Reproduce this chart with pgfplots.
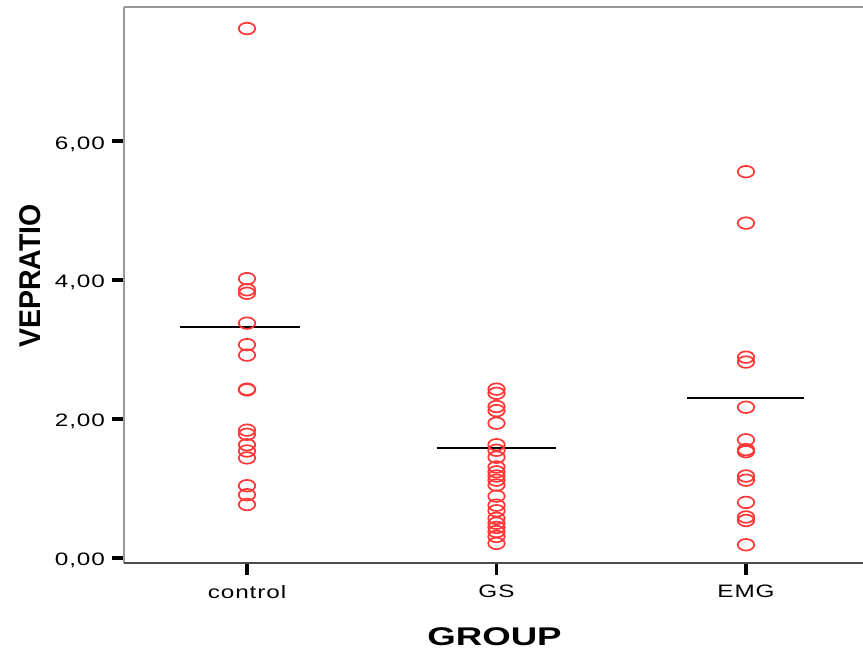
\documentclass[border=0pt]{standalone}
\usepackage{fontspec}
\setmainfont{Liberation Sans}
\newfontfamily\tickfont[FakeStretch=1.35, LetterSpace=5]{Liberation Sans}
\newfontfamily\xlabfont[FakeStretch=1.43]{Liberation Sans}
\newfontfamily\ylabfont[FakeStretch=0.95]{Liberation Sans}
\usepackage{pgfplots}
\pgfplotsset{compat=1.18}
\definecolor{ptred}{RGB}{255,55,55}
\begin{document}
\begin{tikzpicture}
\begin{axis}[
  scale only axis,
  width=369.5pt, height=278pt,
  xmin=-0.493, xmax=2.469,
  ymin=-0.072, ymax=7.93,
  axis line style={draw=none},
  xtick={0,1,2},
  xticklabels={control,GS,EMG},
  ytick={0,2,4,6},
  xtick pos=bottom, ytick pos=left,
  tick align=outside,
  major tick length=6pt,
  every tick/.style={black, line width=1.6pt},
  /pgf/number format/.cd, fixed, fixed zerofill, precision=2, use comma, assume math mode=true,
  /pgfplots/.cd,
  tick label style={font=\tickfont\fontsize{9}{10}\selectfont},
  yticklabel style={yshift=-1.4pt},
  xticklabel style={yshift=-1.5pt},
  xlabel={GROUP},
  xlabel style={font=\xlabfont\bfseries\fontsize{12.8}{14}\selectfont, at={(axis description cs:0.5014,-0.1322)}, anchor=center},
  ylabel={VEPRATIO},
  ylabel style={font=\ylabfont\bfseries\fontsize{15}{17}\selectfont, at={(axis description cs:-0.1272,0.516)}, anchor=center},
  clip=false,
]
\draw[color=black!40, line width=1pt] (rel axis cs:0,1) -- (rel axis cs:1,1);
\draw[color=black!40, line width=0.8pt] (rel axis cs:0,0) -- (rel axis cs:0,1);
\draw[color=black!70, line width=0.8pt] (rel axis cs:0,0) -- (rel axis cs:1,0);
% control
\addplot[only marks, mark=o, mark size=2.9pt, mark options={xscale=1.42, ptred, line width=0.85pt}] coordinates {
(0,7.62) (0,4.02) (0,3.86) (0,3.81) (0,3.38) (0,3.07) (0,2.92) (0,2.43) (0,2.42)
(0,1.84) (0,1.78) (0,1.63) (0,1.54) (0,1.44) (0,1.04) (0,0.91) (0,0.77)};
% GS
\addplot[only marks, mark=o, mark size=2.9pt, mark options={xscale=1.42, ptred, line width=0.85pt}] coordinates {
(1,2.43) (1,2.37) (1,2.18) (1,2.12) (1,1.94) (1,1.63) (1,1.55) (1,1.45) (1,1.31) (1,1.24)
(1,1.18) (1,1.12) (1,1.05) (1,0.89) (1,0.76) (1,0.68) (1,0.57) (1,0.50) (1,0.44) (1,0.38)
(1,0.31) (1,0.21)};
% EMG
\addplot[only marks, mark=o, mark size=2.9pt, mark options={xscale=1.42, ptred, line width=0.85pt}] coordinates {
(2,5.56) (2,4.82) (2,2.89) (2,2.82) (2,2.17) (2,1.70) (2,1.56) (2,1.53) (2,1.18) (2,1.12)
(2,0.80) (2,0.59) (2,0.54) (2,0.19)};
% group lines
\addplot[black, line width=1pt] coordinates {(-0.269,3.32) (0.212,3.32)};
\addplot[black, line width=1pt] coordinates {(0.76,1.59) (1.24,1.59)};
\addplot[black, line width=1pt] coordinates {(1.764,2.30) (2.232,2.30)};
\end{axis}
\pgfresetboundingbox
\path (current axis.south west) ++(-62pt,-44.5pt) rectangle ([yshift=3.5pt]current axis.north east);
\end{tikzpicture}
\end{document}
